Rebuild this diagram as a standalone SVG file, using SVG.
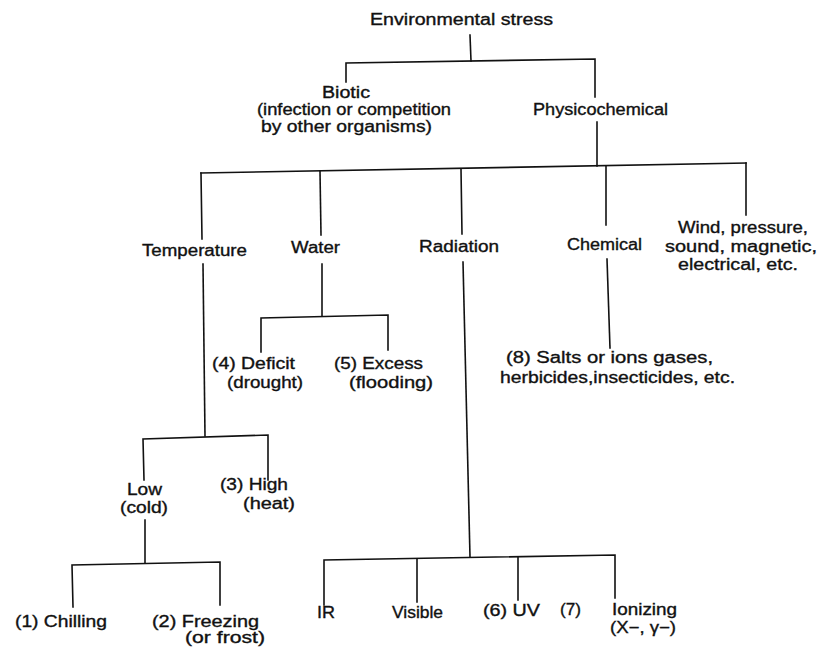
<svg xmlns="http://www.w3.org/2000/svg" width="821" height="647" viewBox="0 0 821 647">
<style>
text{font-family:"Liberation Sans","DejaVu Sans",sans-serif;font-size:16px;fill:#111;stroke:#111;stroke-width:0.35;}
.c line,.c polyline{stroke:#111;stroke-width:1.6;fill:none;stroke-linecap:square;}
</style>
<rect width="821" height="647" fill="#fff"/>
<g class="c" id="connectors">
<line x1="470" y1="35" x2="471" y2="61"/>
<polyline points="346,82 346,63 595,59 595,97"/>
<line x1="597" y1="122" x2="597" y2="166"/>
<line x1="201" y1="173" x2="746" y2="163"/>
<line x1="201" y1="173" x2="202" y2="239"/>
<line x1="320" y1="171" x2="321" y2="235"/>
<line x1="461" y1="169" x2="462" y2="234"/>
<line x1="606" y1="166" x2="606" y2="225"/>
<line x1="746" y1="163" x2="746" y2="215"/>
<line x1="203" y1="264" x2="205" y2="436"/>
<polyline points="144,480 143,439 268,435 268,480"/>
<line x1="145" y1="520" x2="145" y2="563"/>
<polyline points="73,607 72,565 220,562 220,605"/>
<line x1="322" y1="264" x2="322" y2="316"/>
<polyline points="261,352 261,318 388,315 388,350"/>
<line x1="607" y1="259" x2="610" y2="348"/>
<line x1="463" y1="262" x2="470" y2="557"/>
<polyline points="324,605 324,560 615,555 615,598"/>
<line x1="417" y1="559" x2="417" y2="602"/>
<line x1="518" y1="557" x2="518" y2="600"/>
</g>
<g id="n-root"><text x="370" y="25" textLength="183" lengthAdjust="spacingAndGlyphs">Environmental stress</text></g>
<g id="n-biotic">
<text x="322" y="98" textLength="48" lengthAdjust="spacingAndGlyphs">Biotic</text>
<text x="257" y="115" textLength="194" lengthAdjust="spacingAndGlyphs">(infection or competition</text>
<text x="261" y="132" textLength="171" lengthAdjust="spacingAndGlyphs">by other organisms)</text>
</g>
<g id="n-physico"><text x="533" y="115" textLength="135" lengthAdjust="spacingAndGlyphs">Physicochemical</text></g>
<g id="n-temperature"><text x="142" y="256" textLength="105" lengthAdjust="spacingAndGlyphs">Temperature</text></g>
<g id="n-water"><text x="291" y="253" textLength="49" lengthAdjust="spacingAndGlyphs">Water</text></g>
<g id="n-radiation"><text x="419" y="252" textLength="80" lengthAdjust="spacingAndGlyphs">Radiation</text></g>
<g id="n-chemical"><text x="567" y="250" textLength="75" lengthAdjust="spacingAndGlyphs">Chemical</text></g>
<g id="n-wind">
<text x="678" y="233" textLength="130" lengthAdjust="spacingAndGlyphs">Wind, pressure,</text>
<text x="665" y="252" textLength="152" lengthAdjust="spacingAndGlyphs">sound,  magnetic,</text>
<text x="678" y="270" textLength="120" lengthAdjust="spacingAndGlyphs">electrical, etc.</text>
</g>
<g id="n-deficit">
<text x="212" y="369" textLength="83" lengthAdjust="spacingAndGlyphs">(4) Deficit</text>
<text x="227" y="388" textLength="76" lengthAdjust="spacingAndGlyphs">(drought)</text>
</g>
<g id="n-excess">
<text x="334" y="369" textLength="89" lengthAdjust="spacingAndGlyphs">(5) Excess</text>
<text x="349" y="388" textLength="84" lengthAdjust="spacingAndGlyphs">(flooding)</text>
</g>
<g id="n-salts">
<text x="506" y="363" textLength="207" lengthAdjust="spacingAndGlyphs">(8) Salts or ions gases,</text>
<text x="500" y="383" textLength="235" lengthAdjust="spacingAndGlyphs">herbicides,insecticides, etc.</text>
</g>
<g id="n-low">
<text x="127" y="495" textLength="35" lengthAdjust="spacingAndGlyphs">Low</text>
<text x="120" y="513" textLength="48" lengthAdjust="spacingAndGlyphs">(cold)</text>
</g>
<g id="n-high">
<text x="220" y="490" textLength="68" lengthAdjust="spacingAndGlyphs">(3) High</text>
<text x="243" y="509" textLength="52" lengthAdjust="spacingAndGlyphs">(heat)</text>
</g>
<g id="n-chilling"><text x="15" y="627" textLength="92" lengthAdjust="spacingAndGlyphs">(1)  Chilling</text></g>
<g id="n-freezing">
<text x="152" y="627" textLength="107" lengthAdjust="spacingAndGlyphs">(2)  Freezing</text>
<text x="185" y="643" textLength="80" lengthAdjust="spacingAndGlyphs">(or  frost)</text>
</g>
<g id="n-ir"><text x="317" y="618" textLength="18" lengthAdjust="spacingAndGlyphs">IR</text></g>
<g id="n-visible"><text x="392" y="618" textLength="51" lengthAdjust="spacingAndGlyphs">Visible</text></g>
<g id="n-uv"><text x="483" y="616" textLength="57" lengthAdjust="spacingAndGlyphs">(6) UV</text></g>
<g id="n-ionizing">
<text x="560" y="615" textLength="21" lengthAdjust="spacingAndGlyphs">(7)</text>
<text x="612" y="615" textLength="65" lengthAdjust="spacingAndGlyphs">Ionizing</text>
<text x="610" y="633" textLength="66" lengthAdjust="spacingAndGlyphs">(X−,  γ−)</text>
</g>
</svg>
